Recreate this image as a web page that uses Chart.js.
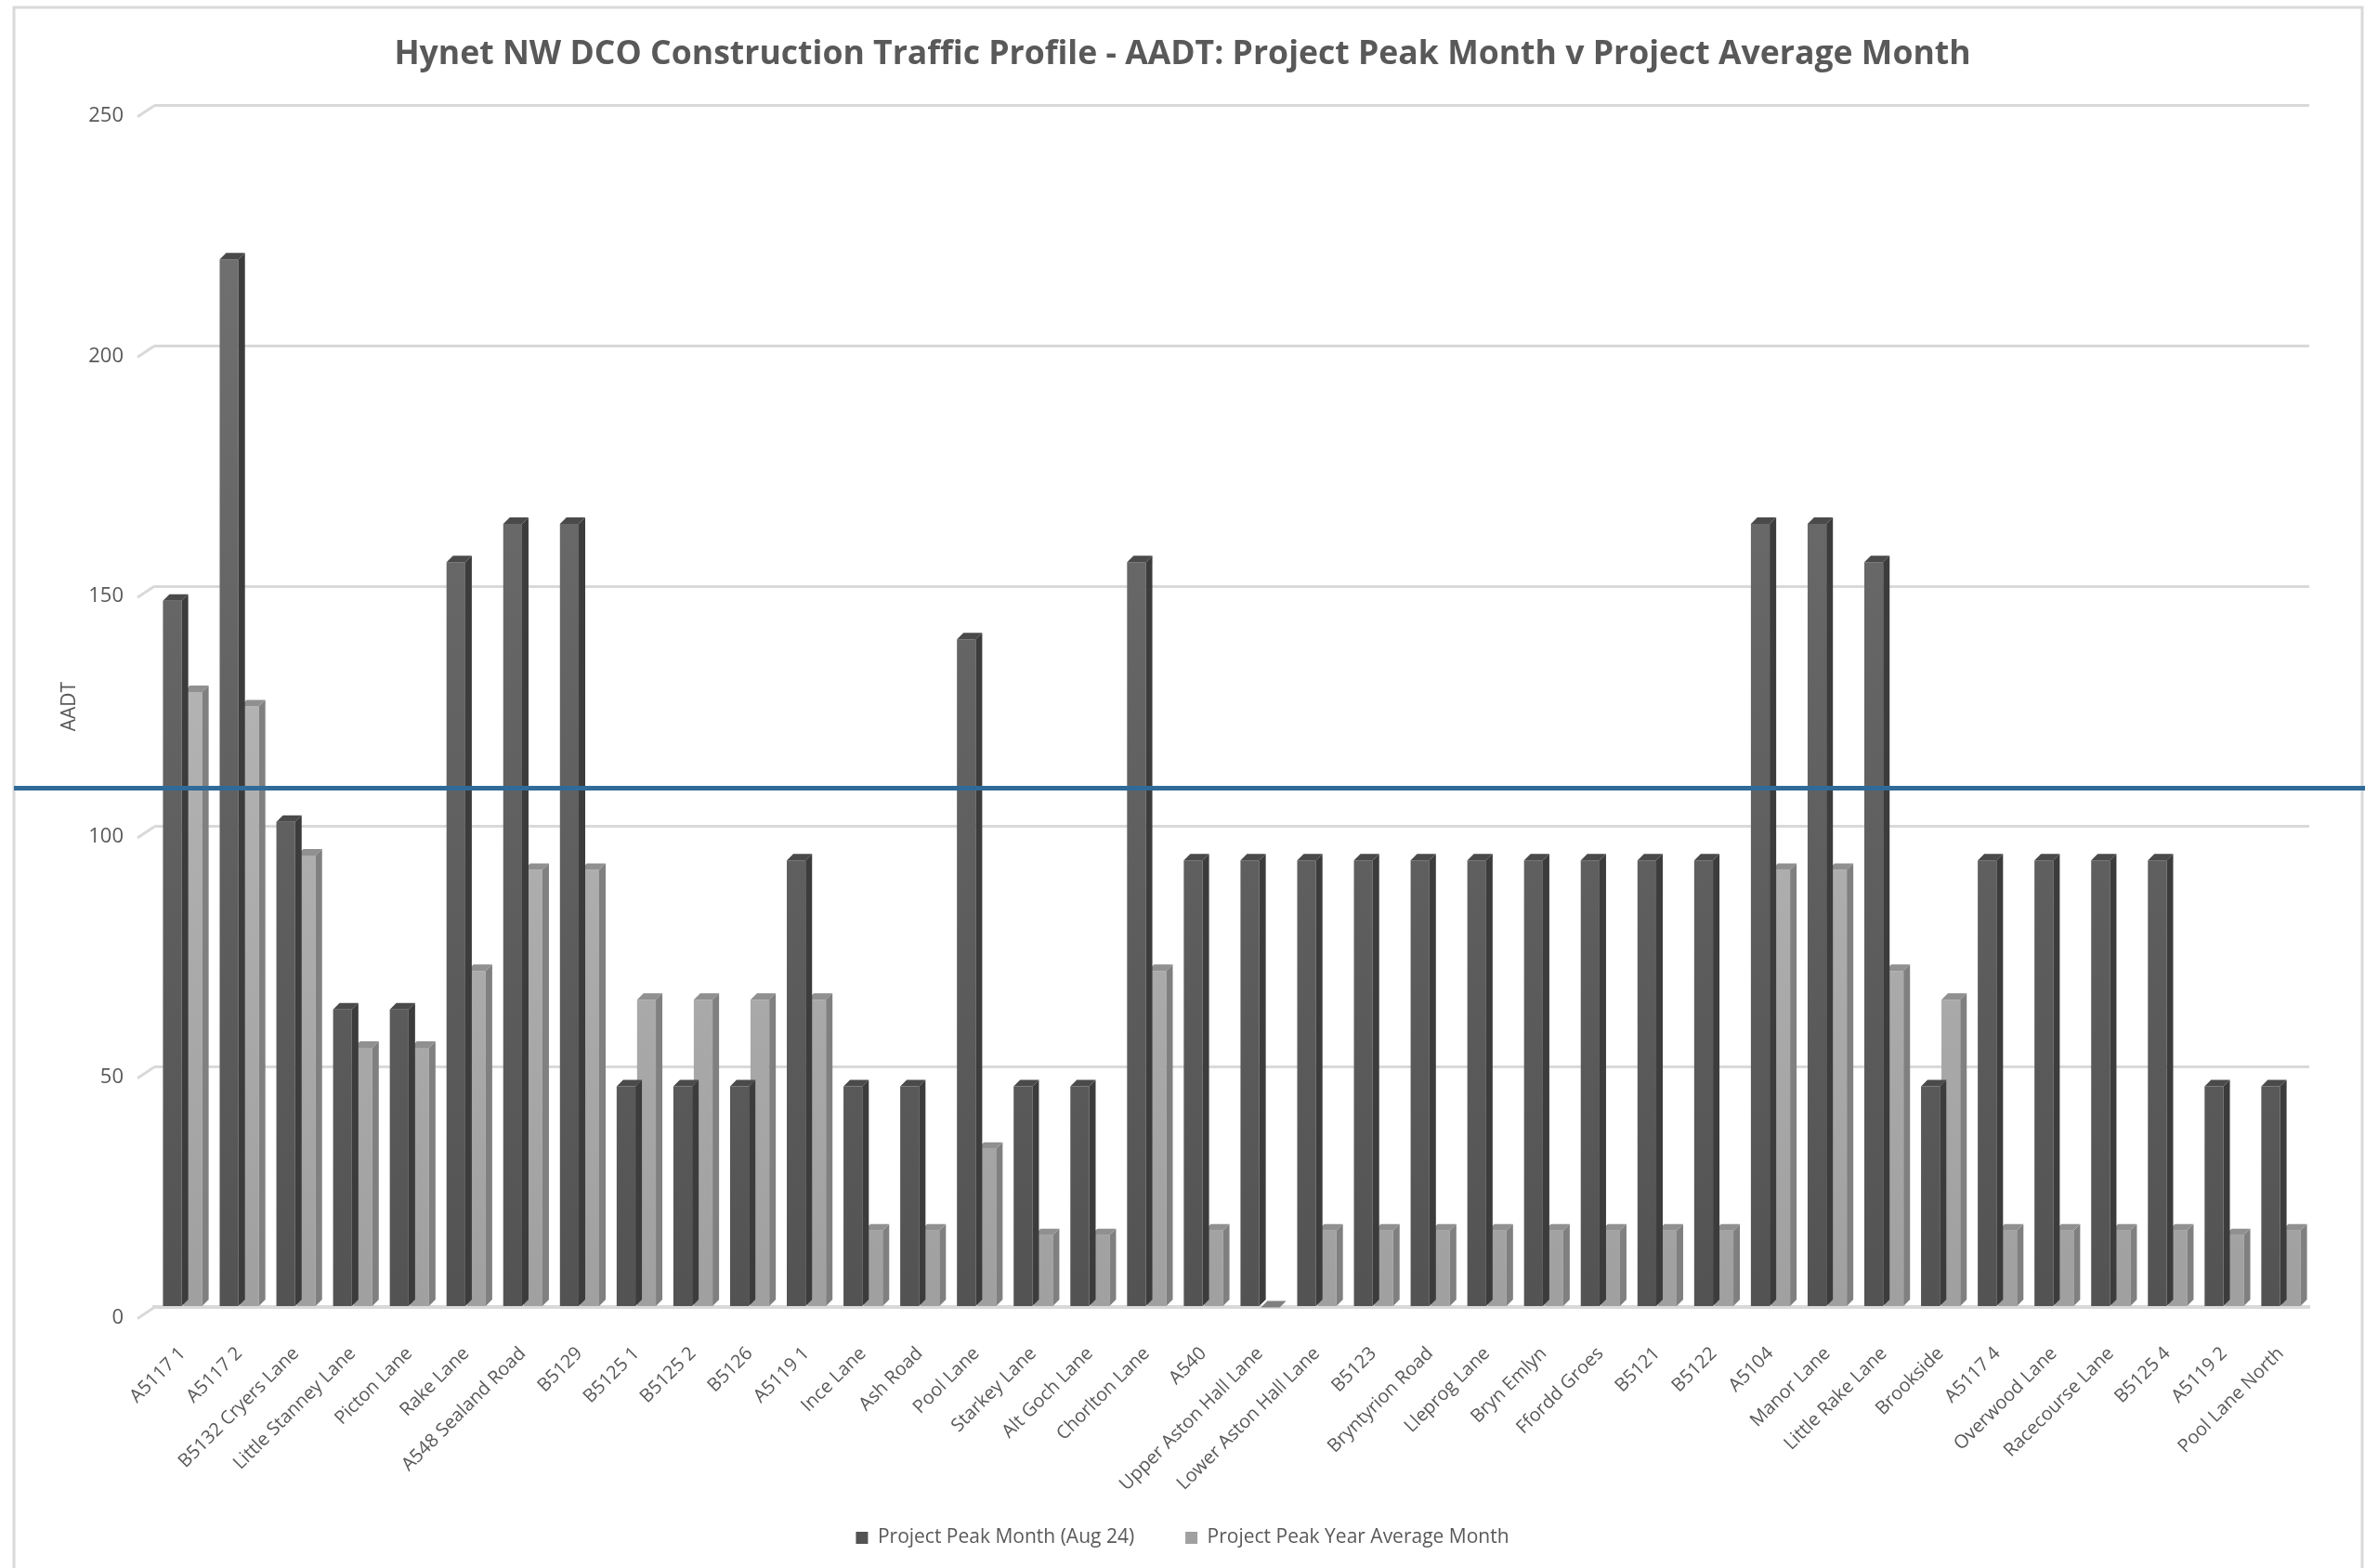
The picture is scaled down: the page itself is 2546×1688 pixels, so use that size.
<!DOCTYPE html>
<html>
<head>
<meta charset="utf-8">
<script src="https://cdn.jsdelivr.net/npm/chart.js@4"></script>
<style>
  html, body { margin: 0; padding: 0; background: #fff; }
  #wrap { width: 2546px; height: 1688px; }
</style>
</head>
<body>
<div id="wrap"><canvas id="chart" width="2546" height="1688"></canvas></div>
<script>
const roads = [
  "A5117 1", "A5117 2", "B5132 Cryers Lane", "Little Stanney Lane", "Picton Lane",
  "Rake Lane", "A548 Sealand Road", "B5129", "B5125 1", "B5125 2", "B5126",
  "A5119 1", "Ince Lane", "Ash Road", "Pool Lane", "Starkey Lane", "Alt Goch Lane",
  "Chorlton Lane", "A540", "Upper Aston Hall Lane", "Lower Aston Hall Lane", "B5123",
  "Bryntyrion Road", "Lleprog Lane", "Bryn Emlyn", "Ffordd Groes", "B5121", "B5122",
  "A5104", "Manor Lane", "Little Rake Lane", "Brookside", "A5117 4", "Overwood Lane",
  "Racecourse Lane", "B5125 4", "A5119 2", "Pool Lane North"
];
const peakMonth = [
  147, 218, 101, 62, 62, 155, 163, 163, 46, 46, 46, 93, 46, 46, 139, 46, 46,
  155, 93, 93, 93, 93, 93, 93, 93, 93, 93, 93, 163, 163, 155, 46, 93, 93, 93, 93, 46, 46
];
const avgMonth = [
  128, 125, 94, 54, 54, 70, 91, 91, 64, 64, 64, 64, 16, 16, 33, 15, 15,
  70, 16, 0, 16, 16, 16, 16, 16, 16, 16, 16, 91, 91, 70, 64, 16, 16, 16, 16, 15, 16
];
const threshold = 108;
const yTicks = [0, 50, 100, 150, 200, 250];

const textColor = "#595959";
const fontFam = "'Open Sans', 'Liberation Sans', sans-serif";
const legendGap = 55;

function barGradient(ctx, top, bottom) {
  const area = ctx.chart.chartArea;
  if (!area) return top;
  const g = ctx.chart.ctx.createLinearGradient(0, area.top, 0, area.bottom);
  g.addColorStop(0, top);
  g.addColorStop(1, bottom);
  return g;
}

// side + top faces for the excel-style 3d columns
const depth = 7;
const faces = [
  { side: "#3c3c3c", cap: "#4a4a4a" },
  { side: "#808080", cap: "#909090" }
];
const threeD = {
  id: "threeD",
  beforeLayout(chart) {
    // keep the wide gap between legend items but not the tall legend box
    const lg = chart.legend;
    if (!lg || lg._squeezed) return;
    lg._squeezed = true;
    const fit = lg.fit, draw = lg.draw;
    const shift = legendGap - 5;
    lg.fit = function () { fit.call(this); this.height -= legendGap - 2; };
    lg.draw = function () {
      const top = this.top;
      this.top = top - shift;
      draw.apply(this, arguments);
      this.top = top;
    };
  },
  beforeDraw(chart) {
    const c = chart.ctx;
    c.save();
    c.fillStyle = "#fff";
    c.fillRect(0, 0, chart.width, chart.height);
    c.strokeStyle = "#d9d9d9";
    c.lineWidth = 3;
    c.strokeRect(15, 8, 2528, 1700);
    c.restore();
  },
  beforeDatasetsDraw(chart) {
    // little slanted wall edges left of each gridline
    const c = chart.ctx, y = chart.scales.y, left = chart.chartArea.left;
    c.save();
    c.strokeStyle = "#d9d9d9";
    c.lineWidth = 3;
    yTicks.forEach((v) => {
      const py = y.getPixelForValue(v);
      c.beginPath();
      c.moveTo(left - 18, py + 12);
      c.lineTo(left, py);
      c.stroke();
    });
    c.restore();
  },
  afterDatasetDraw(chart, args) {
    const c = chart.ctx;
    const f = faces[args.index];
    c.save();
    args.meta.data.forEach((bar) => {
      const p = bar.getProps(["x", "y", "base", "width"], true);
      const r = p.x + p.width / 2, l = p.x - p.width / 2;
      if (p.base - p.y < 1) {
        c.fillStyle = f.side;
        c.beginPath();
        c.moveTo(l, p.base); c.lineTo(r, p.base);
        c.lineTo(r + depth, p.base - depth); c.lineTo(l + depth, p.base - depth);
        c.closePath(); c.fill();
        return;
      }
      c.fillStyle = f.side;
      c.beginPath();
      c.moveTo(r, p.y); c.lineTo(r + depth, p.y - depth);
      c.lineTo(r + depth, p.base - depth); c.lineTo(r, p.base);
      c.closePath(); c.fill();
      c.fillStyle = f.cap;
      c.beginPath();
      c.moveTo(l, p.y); c.lineTo(l + depth, p.y - depth);
      c.lineTo(r + depth, p.y - depth); c.lineTo(r, p.y);
      c.closePath(); c.fill();
    });
    c.restore();
  },
  afterDraw(chart) {
    const c = chart.ctx;
    const y = chart.scales.y.getPixelForValue(threshold);
    c.save();
    c.strokeStyle = "#306a98";
    c.lineWidth = 5;
    c.beginPath();
    c.moveTo(15, y);
    c.lineTo(chart.width, y);
    c.stroke();
    c.restore();
  }
};

new Chart(document.getElementById("chart"), {
  type: "bar",
  data: {
    labels: roads,
    datasets: [
      {
        label: "Project Peak Month (Aug 24)",
        data: peakMonth,
        backgroundColor: (ctx) => barGradient(ctx, "#737373", "#535353"),
        borderWidth: 0
      },
      {
        label: "Project Peak Year Average Month",
        data: avgMonth,
        backgroundColor: (ctx) => barGradient(ctx, "#c4c4c4", "#a0a0a0"),
        borderWidth: 0
      }
    ]
  },
  options: {
    responsive: false,
    devicePixelRatio: 1,
    animation: false,
    categoryPercentage: 0.72,
    barPercentage: 0.92,
    layout: { padding: { left: 60, right: 60, top: 20, bottom: 15 } },
    plugins: {
      title: {
        display: true,
        text: "Hynet NW DCO Construction Traffic Profile - AADT: Project Peak Month v Project Average Month",
        color: textColor,
        font: { family: fontFam, size: 35.6, weight: "bold" },
        padding: { top: 17, bottom: 34 }
      },
      legend: {
        position: "bottom",
        labels: {
          color: textColor,
          font: { family: fontFam, size: 21 },
          boxWidth: 13,
          boxHeight: 13,
          padding: legendGap
        }
      },
      tooltip: { enabled: false }
    },
    scales: {
      x: {
        grid: { display: false },
        border: { display: true, color: "#d9d9d9", width: 4 },
        ticks: {
          color: textColor,
          font: { family: fontFam, size: 20 },
          minRotation: 45,
          maxRotation: 45,
          autoSkip: false,
          padding: 30
        }
      },
      y: {
        min: 0,
        max: 250,
        afterBuildTicks: (axis) => { axis.ticks = yTicks.map((v) => ({ value: v })); },
        afterFit: (axis) => { axis.width = 106; },
        grid: { color: "#d9d9d9", lineWidth: 3, drawTicks: false },
        border: { display: false },
        title: {
          display: true,
          text: "AADT",
          color: textColor,
          font: { family: fontFam, size: 21 },
          padding: { top: 2, bottom: 0 }
        },
        ticks: {
          color: textColor,
          font: { family: fontFam, size: 22 },
          padding: 33,
          labelOffset: 11
        }
      }
    }
  },
  plugins: [threeD]
});
</script>
</body>
</html>
